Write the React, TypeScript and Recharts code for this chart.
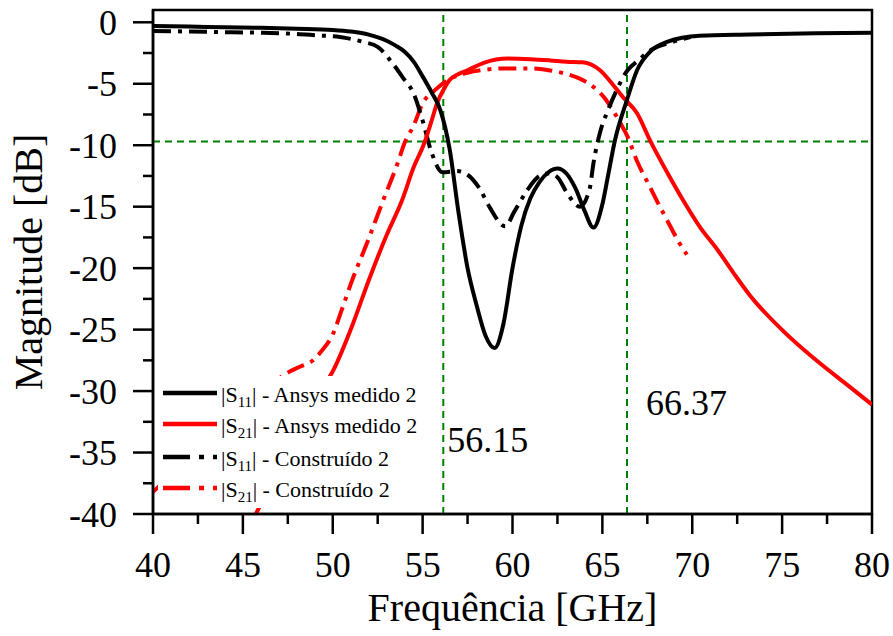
import React from 'react';
import { LineChart, Line, XAxis, YAxis, ReferenceLine, ReferenceArea } from 'recharts';

// [freq GHz, dB]
const s11Ansys: [number, number][] = [
  [40, -0.3], [42, -0.35], [44, -0.4], [46, -0.45], [48, -0.52], [50, -0.62], [51, -0.75],
  [52, -1.0], [53, -1.5], [53.5, -1.9], [54, -2.4], [54.5, -3.2], [55, -4.4], [55.5, -5.7],
  [56, -7.2], [56.5, -10.3], [57, -15.5], [57.5, -20], [58, -23], [58.5, -25.5], [59, -26.5],
  [59.5, -24.5], [60, -20], [60.5, -16.5], [61, -14.3], [61.5, -13], [62, -12.2], [62.5, -11.9],
  [63, -12.3], [63.5, -13.5], [64, -15.3], [64.5, -16.7], [65, -14.8], [65.3, -12.6],
  [65.7, -9.6], [66.37, -6.3], [66.93, -3.9], [67.65, -2.4], [68.6, -1.6], [70.4, -1.1],
  [73.2, -1.0], [76.9, -0.9], [80, -0.85],
];

const s21Ansys: [number, number][] = [
  [45.5, -40.6], [46, -39.2], [47, -36], [48, -33], [49, -30.5], [50, -28.4], [51, -25],
  [52, -21], [53, -17.3], [53.85, -14.5], [54.5, -11.8], [55.1, -9.8], [55.5, -8], [55.8, -6.6],
  [56.2, -5.4], [56.5, -4.7], [57, -4.2], [57.5, -3.9], [58.4, -3.3], [59.75, -2.95], [61, -3.0],
  [62.1, -3.1], [63, -3.2], [63.9, -3.25], [64.87, -3.9], [65.6, -5.1], [66.15, -6.1],
  [66.93, -7.4], [67.65, -9.6], [68.6, -12.2], [69.5, -14.5], [70.4, -16.6], [71.4, -18.5],
  [72.3, -20.4], [73.2, -22.2], [75.05, -25.1], [76.9, -27.5], [78.8, -29.7], [80, -31.1],
];

const s11Built: [number, number][] = [
  [40, -0.7], [42, -0.75], [44, -0.8], [46, -0.85], [48, -0.95], [49, -1.05], [50.4, -1.2],
  [51.7, -1.6], [52.5, -2.0], [53.2, -3.1], [53.9, -4.5], [54.5, -5.8], [55, -8], [55.5, -10.6],
  [56.1, -12.2], [56.9, -12.1], [57.5, -12.4], [58.2, -13.6], [58.75, -15.1], [59.6, -16.6],
  [60.1, -15.4], [60.8, -13.7], [61.5, -12.5], [62, -12.3], [62.5, -12.6], [63, -13.8],
  [63.75, -15], [64.3, -13.5], [64.5, -11.5], [64.9, -8.8], [65.3, -7.2], [65.8, -5.5],
  [66.4, -3.9], [67, -3.1], [67.65, -2.3], [68.9, -1.6], [69.9, -1.2],
];

const s21Built: [number, number][] = [
  [40, -38.2], [42, -35.5], [44, -33], [46, -30.5], [47, -29], [47.5, -28.5], [48.2, -28],
  [48.9, -27.5], [49.4, -26.7], [50, -25.4], [50.5, -23.4], [51, -21.3], [52, -17.6],
  [52.8, -14.5], [53.6, -11.5], [54, -9.8], [54.5, -8.4], [55, -6.6], [55.7, -5.5], [56.4, -4.7],
  [57.5, -4.1], [58.5, -3.85], [59.5, -3.75], [61, -3.75], [62, -3.9], [63, -4.2], [63.9, -4.7],
  [64.7, -5.5], [65.2, -6.3], [65.6, -7.2], [66, -8.2], [66.4, -9.3], [66.9, -11.2],
  [67.65, -13.4], [68.2, -15], [68.6, -16.1], [69.3, -18], [69.7, -18.9],
];

const xTicks = [40, 42.5, 45, 47.5, 50, 52.5, 55, 57.5, 60, 62.5, 65, 67.5, 70, 72.5, 75, 77.5, 80];
const yTicks = [-40, -37.5, -35, -32.5, -30, -27.5, -25, -22.5, -20, -17.5, -15, -12.5, -10, -7.5, -5, -2.5, 0];

const markerLevel = -9.7;
const lowCut = 56.15;
const highCut = 66.37;

const toRows = (pts: [number, number][]) => pts.map(([f, v]) => ({ f, v }));

const FONT = 'Liberation Serif, Tinos, DejaVu Serif, serif';
const GREEN = '#008000';
const DASHDOT = '18 7 4 7';

function XTick({ x, y, payload }: any) {
  const major = payload.value % 5 === 0;
  return (
    <g>
      <line x1={x} y1={y} x2={x} y2={y + (major ? 20 : 10)} stroke="#000" strokeWidth={2.5} />
      {major && (
        <text x={x} y={y + 37} dy="0.71em" textAnchor="middle" fontSize={36} style={{ fontFamily: FONT }} fill="#000">
          {payload.value}
        </text>
      )}
    </g>
  );
}

function YTick({ x, y, payload }: any) {
  const major = payload.value % 5 === 0;
  return (
    <g>
      <line x1={x - (major ? 20 : 10)} y1={y} x2={x} y2={y} stroke="#000" strokeWidth={2.5} />
      {major && (
        <text x={x - 36} y={y} dy="0.35em" textAnchor="end" fontSize={36} style={{ fontFamily: FONT }} fill="#000">
          {payload.value}
        </text>
      )}
    </g>
  );
}

const legendItems = [
  { cy: 393, color: '#000', dash: undefined, sub: '11', text: '| - Ansys medido 2' },
  { cy: 424, color: '#ff0000', dash: undefined, sub: '21', text: '| - Ansys medido 2' },
  { cy: 457, color: '#000', dash: '27 9 5 9', sub: '11', text: '| - Construído 2' },
  { cy: 488, color: '#ff0000', dash: '27 9 5 9', sub: '21', text: '| - Construído 2' },
];

export default function App() {
  return (
    <div style={{ position: 'absolute', left: 0, top: 0, width: 893, height: 636, background: '#fff', fontFamily: FONT }}>
      <LineChart width={893} height={636} margin={{ top: 10, right: 21, bottom: 0, left: 0 }}>
        <XAxis
          type="number"
          dataKey="f"
          domain={[40, 80]}
          ticks={xTicks}
          interval={0}
          allowDataOverflow
          height={122}
          tickLine={false}
          tickMargin={0}
          tickSize={0}
          axisLine={{ stroke: '#000', strokeWidth: 2.5 }}
          tick={<XTick />}
          label={{
            content: ({ viewBox }: any) => (
              <text x={viewBox.x + viewBox.width / 2} y={621} textAnchor="middle" fontSize={40} style={{ fontFamily: FONT }} fill="#000">
                Frequência [GHz]
              </text>
            ),
          }}
        />
        <YAxis
          type="number"
          domain={[-40, 1]}
          ticks={yTicks}
          interval={0}
          allowDataOverflow
          width={153}
          tickLine={false}
          tickMargin={0}
          tickSize={0}
          axisLine={{ stroke: '#000', strokeWidth: 2.5 }}
          tick={<YTick />}
          label={{
            content: ({ viewBox }: any) => {
              const cx = 42;
              const cy = viewBox.y + viewBox.height / 2;
              return (
                <text x={cx} y={cy} transform={`rotate(-90, ${cx}, ${cy})`} textAnchor="middle" fontSize={40} style={{ fontFamily: FONT }} fill="#000">
                  Magnitude [dB]
                </text>
              );
            },
          }}
        />
        <ReferenceArea x1={40} x2={80} y1={-40} y2={1} fill="none" stroke="#000" strokeWidth={2.5} ifOverflow="visible" />
        <ReferenceLine y={markerLevel} stroke={GREEN} strokeWidth={2} strokeDasharray="7 5" />
        <ReferenceLine
          x={lowCut}
          stroke={GREEN}
          strokeWidth={2}
          strokeDasharray="7 5"
          label={{
            content: ({ viewBox }: any) => (
              <text x={viewBox.x + 4} y={452} fontSize={36} style={{ fontFamily: FONT }} fill="#000">
                {lowCut.toFixed(2)}
              </text>
            ),
          }}
        />
        <ReferenceLine
          x={highCut}
          stroke={GREEN}
          strokeWidth={2}
          strokeDasharray="7 5"
          label={{
            content: ({ viewBox }: any) => (
              <text x={viewBox.x + 19} y={415} fontSize={36} style={{ fontFamily: FONT }} fill="#000">
                {highCut.toFixed(2)}
              </text>
            ),
          }}
        />
        <Line data={toRows(s21Built)} dataKey="v" type="monotone" stroke="#ff0000" strokeWidth={4} strokeDasharray={DASHDOT} dot={false} isAnimationActive={false} />
        <Line data={toRows(s11Built)} dataKey="v" type="monotone" stroke="#000" strokeWidth={4} strokeDasharray={DASHDOT} dot={false} isAnimationActive={false} />
        <Line data={toRows(s21Ansys)} dataKey="v" type="monotone" stroke="#ff0000" strokeWidth={4} dot={false} isAnimationActive={false} />
        <Line data={toRows(s11Ansys)} dataKey="v" type="monotone" stroke="#000" strokeWidth={4} dot={false} isAnimationActive={false} />
      </LineChart>
      <svg width={893} height={636} style={{ position: 'absolute', left: 0, top: 0, pointerEvents: 'none', fontFamily: FONT }}>
        <rect x={158} y={376} width={268} height={132} fill="#fff" />
        {legendItems.map((it, i) => (
          <g key={i}>
            <line x1={163} y1={it.cy} x2={217} y2={it.cy} stroke={it.color} strokeWidth={4.5} strokeDasharray={it.dash} />
            <text x={221} y={it.cy + 9} fontSize={22} fill="#000">
              |S
              <tspan fontSize={15} dy={5}>{it.sub}</tspan>
              <tspan dy={-5}>{it.text}</tspan>
            </text>
          </g>
        ))}
      </svg>
    </div>
  );
}
